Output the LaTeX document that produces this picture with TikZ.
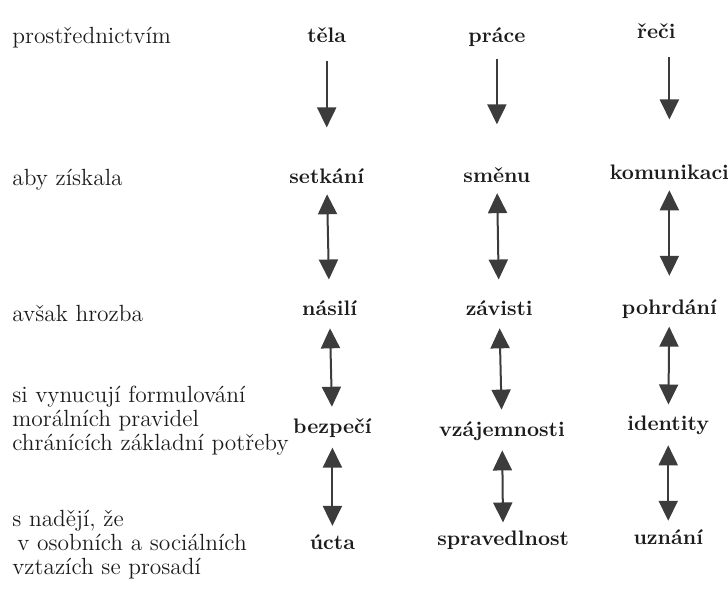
\documentclass[tikz,border=0pt]{standalone}
\usepackage{fontspec}
\usepackage{tikz}
\usetikzlibrary{arrows.meta}
\definecolor{arrowgray}{RGB}{60, 60, 60}
\definecolor{inkgray}{RGB}{28, 28, 28}
\tikzset{>={Triangle[width=9.5pt,length=10pt]}}
\tikzset{
  word/.style = {font=\fontsize{10.5}{12}\selectfont\bfseries, text=inkgray, inner sep=0pt, text height=8pt, text depth=2pt},
  lefttext/.style = {font=\fontsize{11.7}{12}\selectfont, text=inkgray, anchor=west, align=left, inner sep=0pt},
  arr/.style = {draw=arrowgray, line width=1pt}
}

\begin{document}
\begin{tikzpicture}
\useasboundingbox (0,0) rectangle (12.79,10.755);
\node[lefttext] (prostred) at (0.21,10.09) {prostřednictvím};
\node[lefttext] (ziskala) at (0.21,7.59) {aby získala};
\node[lefttext] (hrozba) at (0.21,5.25) {avšak hrozba};
\node[lefttext] (vynucuji) at (0.21,3.36) {si vynucují formulování\\morálních pravidel\\chránících základní potřeby};
\node[lefttext] (nadeje) at (0.21,1.18) {s nadějí, že\\\hspace*{2.5pt}v osobních a sociálních\\vztazích se prosadí};

\node[word] (tela) at (5.74,10.12) {těla};
\node[word] (prace) at (8.73,10.12) {práce};
\node[word] (reci) at (11.53,10.18) {řeči};
\node[word] (setkani) at (5.74,7.63) {setkání};
\node[word] (smenu) at (8.73,7.65) {směnu};
\node[word] (komunikaci) at (11.76,7.70) {komunikaci};
\node[word] (nasili) at (5.79,5.31) {násilí};
\node[word] (zavisti) at (8.77,5.31) {závisti};
\node[word] (pohrdani) at (11.76,5.34) {pohrdání};
\node[word] (bezpeci) at (5.84,3.25) {bezpečí};
\node[word] (vzajemnosti) at (8.82,3.20) {vzájemnosti};
\node[word] (identity) at (11.74,3.29) {identity};
\node[word] (ucta) at (5.84,1.21) {úcta};
\node[word] (spravedlnost) at (8.84,1.27) {spravedlnost};
\node[word] (uznani) at (11.74,1.30) {uznání};

\draw[arr, ->, shorten <=7pt, shorten >=20pt] (tela) -- (setkani);
\draw[arr, ->, shorten <=6pt, shorten >=21pt] (prace) -- (smenu);
\draw[arr, ->, shorten <=7pt, shorten >=22pt] (reci.south -| komunikaci) -- (komunikaci);

\draw[arr, <->, shorten <=3pt, shorten >=10pt] (setkani) -- (nasili);
\draw[arr, <->, shorten <=3pt, shorten >=10pt] (smenu) -- (zavisti);
\draw[arr, <->, shorten <=3pt, shorten >=11pt] (komunikaci) -- (pohrdani);

\draw[arr, <->, shorten <=4pt, shorten >=5pt] (nasili) -- (bezpeci);
\draw[arr, <->, shorten <=4pt, shorten >=5pt] (zavisti) -- (vzajemnosti);
\draw[arr, <->, shorten <=4pt, shorten >=5pt] (pohrdani) -- (identity);

\draw[arr, <->, shorten <=5pt, shorten >=3.5pt] (bezpeci) -- (ucta);
\draw[arr, <->, shorten <=5pt, shorten >=3.5pt] (vzajemnosti) -- (spravedlnost);
\draw[arr, <->, shorten <=5pt, shorten >=3.5pt] (identity) -- (uznani);
\end{tikzpicture}
\end{document}
